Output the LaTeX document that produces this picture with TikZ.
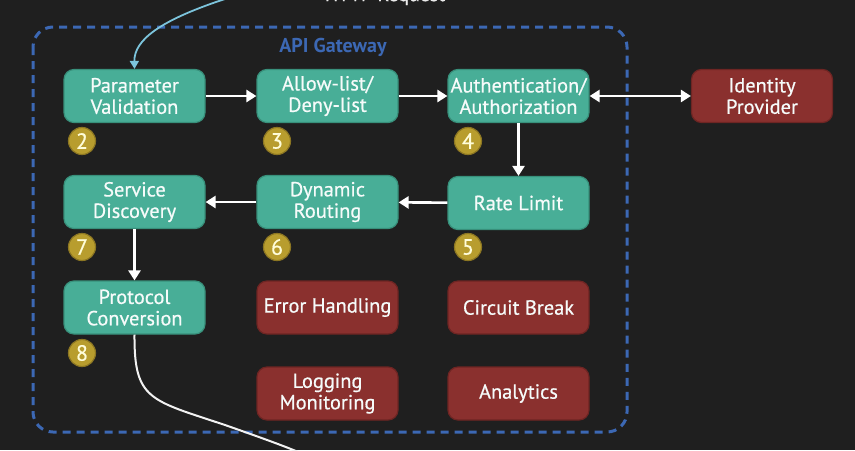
\documentclass[tikz,border=0pt]{standalone}
\usepackage{fontspec}
\setmainfont{PT Sans}
\newfontfamily\boxfont{PT Sans}[FakeBold=0.6]
\usetikzlibrary{arrows.meta,shapes.geometric}
\definecolor{bg}{HTML}{1F1F1F}
\definecolor{teal}{HTML}{48AE97}
\definecolor{tealdark}{HTML}{38907B}
\definecolor{redbox}{HTML}{8A302E}
\definecolor{reddark}{HTML}{6E2523}
\definecolor{gwblue}{HTML}{3C68B4}
\definecolor{gold}{HTML}{B89D2E}
\definecolor{golddark}{HTML}{8C7622}
\definecolor{inblue}{HTML}{7CC4DC}
\tikzset{
  box/.style={rectangle, rounded corners=5pt, minimum width=70.5pt, minimum height=26.5pt,
    align=center, inner sep=1pt, font=\boxfont\fontsize{10.2}{10.7}\selectfont, text=white!95!teal, line width=0.6pt},
  goodbox/.style={box, fill=teal, draw=tealdark},
  badbox/.style={box, fill=redbox, draw=reddark},
  badge/.style={circle, fill=gold, draw=golddark, line width=0.6pt, minimum size=13.5pt,
    inner sep=0pt, text=white!85!yellow, font=\boxfont\fontsize{11}{11}\selectfont},
  flow/.style={draw=white, line width=1.3pt, -{Triangle[length=5pt,width=6pt]}},
  frame/.style={draw=gwblue, line width=1.5pt, dash pattern=on 4pt off 3pt, rounded corners=10pt}
}
\begin{document}
\begin{tikzpicture}[x=0.5pt,y=-0.5pt]
\useasboundingbox[fill=bg] (0,0) rectangle (855,450);
% frame
\draw[frame] (33,27) rectangle (627,432);
\node[text=gwblue, font=\fontsize{10}{10}\selectfont\bfseries] (gw) at (333,47) {API Gateway};
% boxes
\node[goodbox] (pv) at (134.5,96) {Parameter\\Validation};
\node[goodbox] (al) at (327.5,96) {Allow-list/\\Deny-list};
\node[goodbox] (au) at (518.5,96) {Authentication/\\Authorization};
\node[badbox] (idp) at (762,96) {Identity\\Provider};
\node[goodbox] (sd) at (134.5,202) {Service\\Discovery};
\node[goodbox] (dr) at (327.5,202) {Dynamic\\Routing};
\node[goodbox] (rl) at (518.5,203) {Rate Limit};
\node[goodbox] (pc) at (134.5,307.5) {Protocol\\Conversion};
\node[badbox] (eh) at (327.5,307.5) {Error Handling};
\node[badbox] (cb) at (518.5,307.5) {Circuit Break};
\node[badbox] (lm) at (327.5,393.5) {Logging\\Monitoring};
\node[badbox] (an) at (518.5,393.5) {Analytics};
% badges
\node[badge] (b2) at (82,141) {2};
\node[badge] (b3) at (277,141) {3};
\node[badge] (b4) at (468,141) {4};
\node[badge] (b7) at (82,247) {7};
\node[badge] (b6) at (277,247) {6};
\node[badge] (b5) at (468,247) {5};
\node[badge] (b8) at (82,353) {8};
% arrows
\draw[flow] (pv) -- (al);
\draw[flow] (al) -- (au);
\draw[flow, {Triangle[length=5pt,width=6pt]}-{Triangle[length=5pt,width=6pt]}] (au) -- (idp);
\draw[flow] (au) -- (rl);
\draw[flow] (rl) -- (dr);
\draw[flow] (dr) -- (sd);
\draw[flow] (sd) -- (pc);
% incoming request
\node[text=white!85!gray, font=\boxfont\fontsize{10}{10}\selectfont] (http) at (385,-4) {HTTP Request};
\coordinate (in) at (228,-2);
\draw[draw=inblue, line width=0.9pt, -{Triangle[length=4pt,width=4.5pt]}] (in) .. controls (160,20) and (134,40) .. (pv.north);
% outgoing
\coordinate (out) at (305,455);
\draw[draw=white!90!gray, line width=1pt] (pc.south) .. controls (134,400) and (150,400) .. (225,425) .. controls (262,438) and (290,448) .. (out);
\end{tikzpicture}
\end{document}
